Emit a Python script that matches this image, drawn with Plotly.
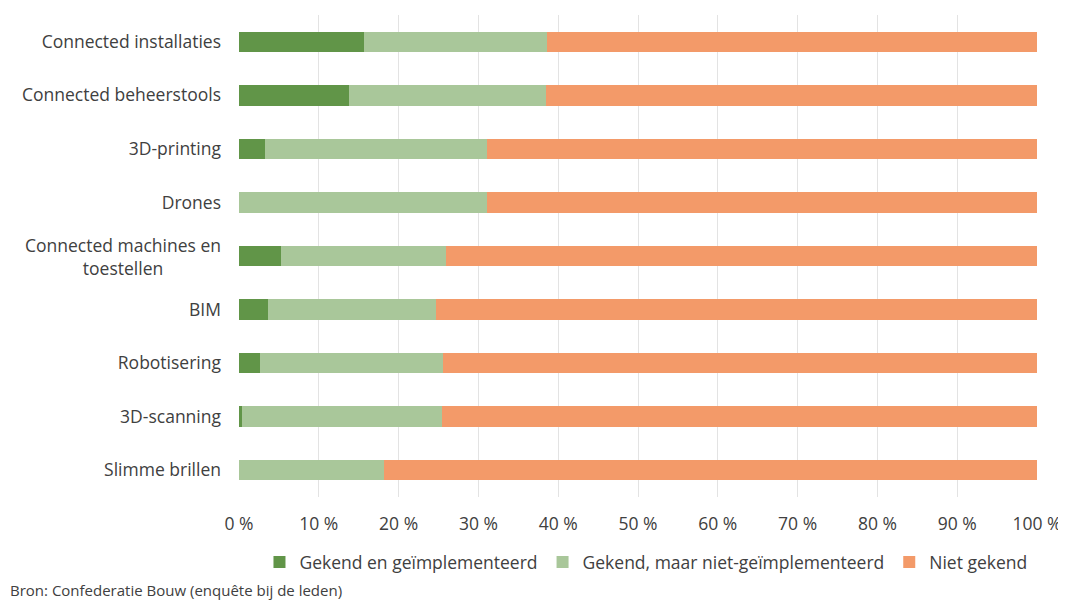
import plotly.graph_objects as go

categories = [
    "Connected installaties",
    "Connected beheerstools",
    "3D-printing",
    "Drones",
    "Connected machines en<br>toestellen",
    "BIM",
    "Robotisering",
    "3D-scanning",
    "Slimme brillen",
]
geimplementeerd = [15.7, 13.8, 3.3, 0.0, 5.3, 3.6, 2.6, 0.4, 0.0]
niet_geimplementeerd = [22.9, 24.7, 27.8, 31.1, 20.6, 21.1, 23.0, 25.0, 18.2]
niet_gekend = [61.4, 61.5, 68.9, 68.9, 74.1, 75.3, 74.4, 74.6, 81.8]

x_ticks = [0, 10, 20, 30, 40, 50, 60, 70, 80, 90, 100]
x_ticktext = [f"{t} %" for t in x_ticks]

series = [
    ("Gekend en geïmplementeerd", geimplementeerd, "#619548"),
    ("Gekend, maar niet-geïmplementeerd", niet_geimplementeerd, "#a9c79a"),
    ("Niet gekend", niet_gekend, "#f39a69"),
]

font_family = "'Open Sans', sans-serif"
text_color = "#404040"
fs = 17.5

fig = go.Figure()
for name, vals, color in series:
    fig.add_trace(go.Bar(
        name=name,
        y=categories,
        x=vals,
        orientation="h",
        marker_color=color,
        marker_line_width=0,
        width=0.38,
    ))

# plotly right-aligns multi-line tick labels; the reference centres this one
two_line = "Connected machines en<br>toestellen"
y_ticktext = ["" if c == two_line else c for c in categories]

fig.update_layout(
    barmode="stack",
    width=1058,
    height=593,
    margin=dict(l=231, r=29, t=7, b=104),
    paper_bgcolor="white",
    plot_bgcolor="white",
    font=dict(family=font_family, size=fs, color=text_color),
    showlegend=True,
    legend=dict(
        orientation="h",
        xanchor="center",
        x=0.51,
        yanchor="middle",
        y=-0.135,
        font=dict(size=fs, color=text_color),
        itemwidth=30,
        traceorder="normal",
    ),
    xaxis=dict(
        range=[0, 100],
        tickvals=x_ticks,
        ticktext=x_ticktext,
        showgrid=True,
        gridcolor="#e3e3e3",
        gridwidth=1,
        zeroline=False,
        showline=False,
        ticks="",
        ticklabelstandoff=14,
        automargin=False,
        fixedrange=True,
    ),
    yaxis=dict(
        autorange="reversed",
        tickvals=categories,
        ticktext=y_ticktext,
        showgrid=False,
        showline=False,
        ticks="",
        ticklabelstandoff=17,
        automargin=False,
        fixedrange=True,
    ),
    annotations=[
        dict(
            text=two_line,
            xref="paper", yref="y",
            x=0, y=two_line,
            xanchor="right", yanchor="middle",
            xshift=-16,
            align="center",
            showarrow=False,
            font=dict(size=fs, color=text_color),
        ),
        dict(
            text="Bron: Confederatie Bouw (enquête bij de leden)",
            xref="paper", yref="paper",
            x=0, y=-0.193,
            xanchor="left", yanchor="middle",
            xshift=-231,
            showarrow=False,
            font=dict(size=15, color=text_color),
        ),
    ],
)

fig.write_html("out.html")
